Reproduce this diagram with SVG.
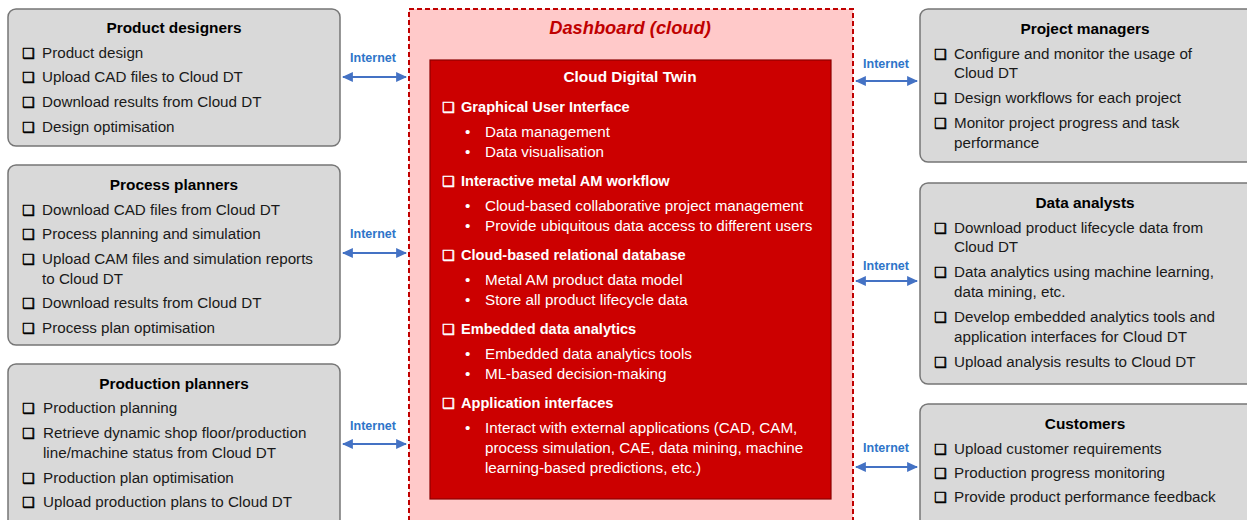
<svg xmlns="http://www.w3.org/2000/svg" width="1247" height="520" viewBox="0 0 1247 520">
<style>
.box{fill:#D9D9D9;stroke:#767676;stroke-width:1.5}
.t{font-family:"Liberation Sans",Arial,sans-serif;font-size:15.2px;fill:#1a1a1a}
.h{font-family:"Liberation Sans",Arial,sans-serif;font-size:15.4px;font-weight:bold;fill:#000;text-anchor:middle}
.cb{font-family:"DejaVu Sans",sans-serif;font-size:14px;fill:#000;stroke:#000;stroke-width:0.5}
.w{font-family:"Liberation Sans",Arial,sans-serif;font-size:15.2px;fill:#fff}
.wb{font-family:"Liberation Sans",Arial,sans-serif;font-size:14.6px;font-weight:bold;fill:#fff}
.wcb{font-family:"DejaVu Sans",sans-serif;font-size:14px;fill:#fff;stroke:#fff;stroke-width:0.5}
.net{font-family:"Liberation Sans",Arial,sans-serif;font-size:12.5px;font-weight:bold;fill:#2E75C9;text-anchor:middle}
.arr{stroke:#4472C4;stroke-width:2.2;fill:none;marker-start:url(#ah);marker-end:url(#ah)}
</style>
<defs>
<marker id="ah" viewBox="0 0 10 10" refX="9" refY="5" markerWidth="5" markerHeight="5" orient="auto-start-reverse" markerUnits="strokeWidth">
<path d="M0,0.5 L10,5 L0,9.5 Z" fill="#4472C4"/>
</marker>
</defs>
<rect width="1247" height="520" fill="#fff"/>

<g id="dashboard">
<rect x="409" y="9" width="444" height="520" fill="#FFC9C9" stroke="#C00000" stroke-width="2" stroke-dasharray="5,3"/>
<text x="630" y="34" font-family="Liberation Sans,Arial,sans-serif" font-size="18.3" font-weight="bold" font-style="italic" fill="#C00000" text-anchor="middle">Dashboard (cloud)</text>
</g>

<g id="cloud-dt">
<rect x="430" y="60" width="401" height="439" fill="#CC0000" stroke="#8C0000" stroke-width="1.2"/>
<text x="630" y="82" class="h" style="fill:#fff">Cloud Digital Twin</text>
<text x="442" y="112" class="wcb">❑</text><text x="461" y="112" class="wb">Graphical User Interface</text>
<text x="465" y="137" class="w">•</text><text x="485" y="137" class="w">Data management</text>
<text x="465" y="157" class="w">•</text><text x="485" y="157" class="w">Data visualisation</text>
<text x="442" y="186" class="wcb">❑</text><text x="461" y="186" class="wb">Interactive metal AM workflow</text>
<text x="465" y="211" class="w">•</text><text x="485" y="211" class="w">Cloud-based collaborative project management</text>
<text x="465" y="231" class="w">•</text><text x="485" y="231" class="w">Provide ubiquitous data access to different users</text>
<text x="442" y="260" class="wcb">❑</text><text x="461" y="260" class="wb">Cloud-based relational database</text>
<text x="465" y="285" class="w">•</text><text x="485" y="285" class="w">Metal AM product data model</text>
<text x="465" y="305" class="w">•</text><text x="485" y="305" class="w">Store all product lifecycle data</text>
<text x="442" y="334" class="wcb">❑</text><text x="461" y="334" class="wb">Embedded data analytics</text>
<text x="465" y="359" class="w">•</text><text x="485" y="359" class="w">Embedded data analytics tools</text>
<text x="465" y="379" class="w">•</text><text x="485" y="379" class="w">ML-based decision-making</text>
<text x="442" y="408" class="wcb">❑</text><text x="461" y="408" class="wb">Application interfaces</text>
<text x="465" y="433" class="w">•</text><text x="485" y="433" class="w">Interact with external applications (CAD, CAM,</text>
<text x="485" y="453" class="w">process simulation, CAE, data mining, machine</text>
<text x="485" y="473" class="w">learning-based predictions, etc.)</text>
</g>

<g id="product-designers">
<rect x="8" y="9" width="332" height="137" rx="8" class="box"/>
<text x="174" y="33" class="h">Product designers</text>
<text x="22" y="58" class="cb">❑</text><text x="42" y="58" class="t">Product design</text>
<text x="22" y="82" class="cb">❑</text><text x="42" y="82" class="t">Upload CAD files to Cloud DT</text>
<text x="22" y="107" class="cb">❑</text><text x="42" y="107" class="t">Download results from Cloud DT</text>
<text x="22" y="132" class="cb">❑</text><text x="42" y="132" class="t">Design optimisation</text>
</g>

<g id="process-planners">
<rect x="8" y="165" width="332" height="180" rx="8" class="box"/>
<text x="174" y="190" class="h">Process planners</text>
<text x="22" y="215" class="cb">❑</text><text x="42" y="215" class="t">Download CAD files from Cloud DT</text>
<text x="22" y="239" class="cb">❑</text><text x="42" y="239" class="t">Process planning and simulation</text>
<text x="22" y="264" class="cb">❑</text><text x="42" y="264" class="t">Upload CAM files and simulation reports</text>
<text x="42" y="284" class="t">to Cloud DT</text>
<text x="22" y="308" class="cb">❑</text><text x="42" y="308" class="t">Download results from Cloud DT</text>
<text x="22" y="333" class="cb">❑</text><text x="42" y="333" class="t">Process plan optimisation</text>
</g>

<g id="production-planners">
<rect x="8" y="364" width="332" height="165" rx="8" class="box"/>
<text x="174" y="389" class="h">Production planners</text>
<text x="22" y="413" class="cb">❑</text><text x="43" y="413" class="t">Production planning</text>
<text x="22" y="438" class="cb">❑</text><text x="43" y="438" class="t">Retrieve dynamic shop floor/production</text>
<text x="43" y="458" class="t">line/machine status from Cloud DT</text>
<text x="22" y="483" class="cb">❑</text><text x="43" y="483" class="t">Production plan optimisation</text>
<text x="22" y="507" class="cb">❑</text><text x="43" y="507" class="t">Upload production plans to Cloud DT</text>
</g>

<g id="project-managers">
<rect x="920" y="9" width="340" height="153" rx="8" class="box"/>
<text x="1085" y="34" class="h">Project managers</text>
<text x="934" y="59" class="cb">❑</text><text x="954" y="59" class="t">Configure and monitor the usage of</text>
<text x="954" y="78" class="t">Cloud DT</text>
<text x="934" y="103" class="cb">❑</text><text x="954" y="103" class="t">Design workflows for each project</text>
<text x="934" y="128" class="cb">❑</text><text x="954" y="128" class="t">Monitor project progress and task</text>
<text x="954" y="148" class="t">performance</text>
</g>

<g id="data-analysts">
<rect x="920" y="183" width="340" height="201" rx="8" class="box"/>
<text x="1085" y="208" class="h">Data analysts</text>
<text x="934" y="233" class="cb">❑</text><text x="954" y="233" class="t">Download product lifecycle data from</text>
<text x="954" y="252" class="t">Cloud DT</text>
<text x="934" y="277" class="cb">❑</text><text x="954" y="277" class="t">Data analytics using machine learning,</text>
<text x="954" y="297" class="t">data mining, etc.</text>
<text x="934" y="322" class="cb">❑</text><text x="954" y="322" class="t">Develop embedded analytics tools and</text>
<text x="954" y="342" class="t">application interfaces for Cloud DT</text>
<text x="934" y="367" class="cb">❑</text><text x="954" y="367" class="t">Upload analysis results to Cloud DT</text>
</g>

<g id="customers">
<rect x="920" y="404" width="340" height="125" rx="8" class="box"/>
<text x="1085" y="429" class="h">Customers</text>
<text x="934" y="454" class="cb">❑</text><text x="954" y="454" class="t">Upload customer requirements</text>
<text x="934" y="478" class="cb">❑</text><text x="954" y="478" class="t">Production progress monitoring</text>
<text x="934" y="502" class="cb">❑</text><text x="954" y="502" class="t">Provide product performance feedback</text>
</g>

<g id="connectors">
<line x1="343" y1="77" x2="406" y2="77" class="arr"/>
<text x="373" y="62" class="net">Internet</text>
<line x1="343" y1="253" x2="406" y2="253" class="arr"/>
<text x="373" y="238" class="net">Internet</text>
<line x1="343" y1="444" x2="406" y2="444" class="arr"/>
<text x="373" y="430" class="net">Internet</text>
<line x1="856" y1="81" x2="917" y2="81" class="arr"/>
<text x="886" y="68" class="net">Internet</text>
<line x1="856" y1="281" x2="917" y2="281" class="arr"/>
<text x="886" y="270" class="net">Internet</text>
<line x1="856" y1="467" x2="917" y2="467" class="arr"/>
<text x="886" y="452" class="net">Internet</text>
</g>
</svg>
